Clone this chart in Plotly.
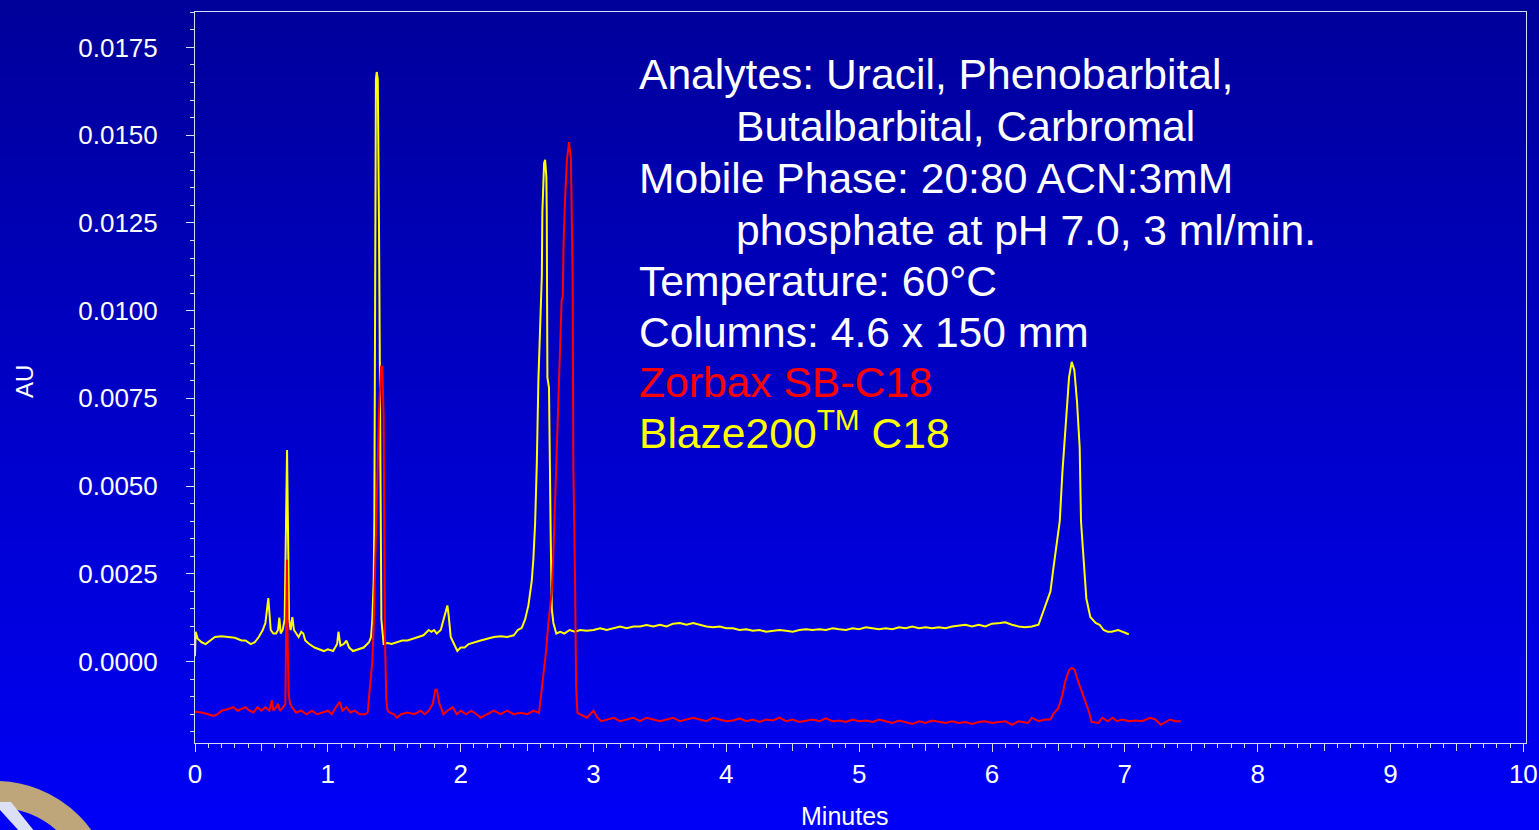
import plotly.graph_objects as go

# ---------------- data ----------------
blaze_time = [
    0.000, 0.005, 0.02, 0.05, 0.08, 0.12, 0.15, 0.20, 0.25, 0.30,
    0.35, 0.38, 0.42, 0.45, 0.48, 0.51, 0.53, 0.545, 0.552, 0.56,
    0.57, 0.59, 0.61, 0.625, 0.635, 0.645, 0.66, 0.675, 0.685, 0.693,
    0.70, 0.708, 0.72, 0.733, 0.745, 0.76, 0.78, 0.80, 0.815, 0.83,
    0.86, 0.90, 0.94, 0.97, 1.00, 1.04, 1.07, 1.08, 1.095, 1.12,
    1.14, 1.16, 1.19, 1.23, 1.27, 1.31, 1.325, 1.335, 1.345, 1.350,
    1.357, 1.362, 1.368, 1.376, 1.385, 1.393, 1.403, 1.42, 1.45, 1.48,
    1.52, 1.56, 1.60, 1.64, 1.68, 1.72, 1.76, 1.78, 1.80, 1.82,
    1.85, 1.88, 1.90, 1.91, 1.925, 1.95, 1.975, 2.00, 2.03, 2.06,
    2.10, 2.15, 2.20, 2.25, 2.30, 2.35, 2.40, 2.43, 2.46, 2.485,
    2.51, 2.535, 2.547, 2.56, 2.573, 2.585, 2.611, 2.615, 2.628, 2.636,
    2.645, 2.648, 2.653, 2.665, 2.678, 2.686, 2.698, 2.72, 2.75, 2.78,
    2.82, 2.86, 2.90, 2.95, 3.00, 3.05, 3.10, 3.15, 3.20, 3.25,
    3.30, 3.35, 3.40, 3.45, 3.50, 3.55, 3.60, 3.65, 3.70, 3.75,
    3.80, 3.85, 3.90, 3.95, 4.00, 4.05, 4.10, 4.15, 4.20, 4.25,
    4.30, 4.35, 4.40, 4.45, 4.50, 4.55, 4.60, 4.65, 4.70, 4.75,
    4.80, 4.85, 4.90, 4.95, 5.00, 5.05, 5.10, 5.15, 5.20, 5.25,
    5.30, 5.35, 5.40, 5.45, 5.50, 5.55, 5.60, 5.65, 5.70, 5.75,
    5.80, 5.85, 5.90, 5.95, 6.00, 6.06, 6.10, 6.15, 6.20, 6.25,
    6.30, 6.35, 6.39, 6.42, 6.44, 6.46, 6.49, 6.51, 6.53, 6.55,
    6.58, 6.60, 6.62, 6.64, 6.66, 6.67, 6.69, 6.71, 6.74, 6.78,
    6.81, 6.84, 6.87, 6.90, 6.95, 6.98, 7.01, 7.03,
]
blaze_au = [
    0.00015, 0.00085, 0.00065, 0.00055, 0.00050, 0.00060, 0.00070, 0.00072, 0.00070, 0.00068,
    0.00060, 0.00060, 0.00050, 0.00055, 0.00070, 0.00090, 0.00110, 0.00160, 0.00181, 0.00140,
    0.00090, 0.00080, 0.00080, 0.00090, 0.00125, 0.00080, 0.00090, 0.00120, 0.00350, 0.00603,
    0.00380, 0.00120, 0.00090, 0.00127, 0.00090, 0.00080, 0.00070, 0.00085, 0.00080, 0.00060,
    0.00050, 0.00040, 0.00033, 0.00030, 0.00035, 0.00030, 0.00050, 0.00085, 0.00045, 0.00050,
    0.00060, 0.00040, 0.00030, 0.00035, 0.00040, 0.00055, 0.00070, 0.00120, 0.00230, 0.00400,
    0.01100, 0.01660, 0.01680, 0.01660, 0.01250, 0.00640, 0.00120, 0.00050, 0.00053, 0.00050,
    0.00055, 0.00060, 0.00060, 0.00065, 0.00070, 0.00075, 0.00090, 0.00085, 0.00090, 0.00080,
    0.00090, 0.00130, 0.00160, 0.00130, 0.00070, 0.00050, 0.00030, 0.00040, 0.00040, 0.00050,
    0.00055, 0.00060, 0.00065, 0.00070, 0.00072, 0.00070, 0.00075, 0.00090, 0.00096, 0.00120,
    0.00160, 0.00230, 0.00290, 0.00390, 0.00560, 0.00800, 0.01100, 0.01280, 0.01420, 0.01430,
    0.01380, 0.01280, 0.00810, 0.00780, 0.00350, 0.00150, 0.00110, 0.00080, 0.00085, 0.00080,
    0.00090, 0.00085, 0.00090, 0.00088, 0.00090, 0.00095, 0.00090, 0.00095, 0.00100, 0.00095,
    0.00100, 0.00100, 0.00104, 0.00100, 0.00105, 0.00100, 0.00108, 0.00110, 0.00105, 0.00110,
    0.00105, 0.00100, 0.00098, 0.00100, 0.00095, 0.00095, 0.00090, 0.00092, 0.00088, 0.00090,
    0.00085, 0.00088, 0.00090, 0.00088, 0.00085, 0.00090, 0.00092, 0.00090, 0.00092, 0.00090,
    0.00095, 0.00092, 0.00090, 0.00095, 0.00092, 0.00098, 0.00095, 0.00092, 0.00095, 0.00092,
    0.00098, 0.00095, 0.00100, 0.00095, 0.00098, 0.00095, 0.00098, 0.00095, 0.00100, 0.00102,
    0.00105, 0.00100, 0.00105, 0.00100, 0.00108, 0.00110, 0.00112, 0.00105, 0.00100, 0.00098,
    0.00100, 0.00105, 0.00147, 0.00180, 0.00200, 0.00260, 0.00340, 0.00400, 0.00540, 0.00650,
    0.00810, 0.00854, 0.00830, 0.00740, 0.00610, 0.00400, 0.00280, 0.00180, 0.00127, 0.00110,
    0.00105, 0.00090, 0.00085, 0.00085, 0.00090, 0.00085, 0.00082, 0.00078,
]

zorbax_time = [
    0.00, 0.05, 0.10, 0.14, 0.17, 0.20, 0.25, 0.29, 0.32, 0.35,
    0.38, 0.41, 0.44, 0.47, 0.50, 0.53, 0.56, 0.578, 0.59, 0.61,
    0.625, 0.64, 0.665, 0.68, 0.686, 0.692, 0.698, 0.705, 0.715, 0.73,
    0.76, 0.80, 0.84, 0.88, 0.92, 0.96, 1.00, 1.03, 1.06, 1.09,
    1.11, 1.14, 1.17, 1.20, 1.24, 1.28, 1.30, 1.315, 1.325, 1.335,
    1.345, 1.355, 1.365, 1.375, 1.385, 1.40, 1.41, 1.42, 1.43, 1.44,
    1.45, 1.47, 1.50, 1.52, 1.55, 1.60, 1.65, 1.70, 1.73, 1.76,
    1.79, 1.81, 1.82, 1.84, 1.87, 1.90, 1.94, 1.97, 2.00, 2.04,
    2.08, 2.12, 2.15, 2.20, 2.25, 2.30, 2.35, 2.40, 2.45, 2.50,
    2.55, 2.59, 2.61, 2.623, 2.643, 2.66, 2.686, 2.70, 2.711, 2.724,
    2.74, 2.75, 2.76, 2.769, 2.774, 2.786, 2.80, 2.816, 2.83, 2.843,
    2.848, 2.861, 2.869, 2.879, 2.90, 2.95, 3.00, 3.03, 3.06, 3.10,
    3.15, 3.20, 3.25, 3.30, 3.35, 3.40, 3.45, 3.50, 3.55, 3.60,
    3.65, 3.70, 3.75, 3.80, 3.85, 3.90, 3.95, 4.00, 4.05, 4.10,
    4.15, 4.20, 4.25, 4.30, 4.35, 4.40, 4.45, 4.50, 4.55, 4.60,
    4.65, 4.70, 4.75, 4.80, 4.85, 4.90, 4.95, 5.00, 5.05, 5.10,
    5.15, 5.20, 5.25, 5.30, 5.35, 5.40, 5.45, 5.50, 5.55, 5.60,
    5.65, 5.70, 5.75, 5.80, 5.85, 5.90, 5.95, 6.00, 6.06, 6.10,
    6.15, 6.20, 6.27, 6.30, 6.35, 6.40, 6.44, 6.46, 6.50, 6.53,
    6.55, 6.58, 6.60, 6.62, 6.65, 6.68, 6.70, 6.73, 6.75, 6.80,
    6.83, 6.87, 6.91, 6.94, 6.98, 7.03, 7.08, 7.13, 7.19, 7.23,
    7.27, 7.31, 7.34, 7.38, 7.42,
]
zorbax_au = [
    -0.00143, -0.00145, -0.00150, -0.00155, -0.00150, -0.00140, -0.00135, -0.00130, -0.00140, -0.00135,
    -0.00130, -0.00140, -0.00145, -0.00130, -0.00140, -0.00130, -0.00140, -0.00110, -0.00140, -0.00130,
    -0.00120, -0.00140, -0.00130, -0.00120, 0.00050, 0.00290, 0.00050, -0.00090, -0.00120, -0.00130,
    -0.00145, -0.00140, -0.00150, -0.00140, -0.00150, -0.00145, -0.00140, -0.00150, -0.00130, -0.00115,
    -0.00140, -0.00130, -0.00145, -0.00140, -0.00150, -0.00150, -0.00145, -0.00080, -0.00030, 0.00000,
    0.00100, 0.00250, 0.00390, 0.00520, 0.00710, 0.00840, 0.00840, 0.00700, 0.00070, -0.00110,
    -0.00140, -0.00146, -0.00150, -0.00160, -0.00150, -0.00145, -0.00150, -0.00140, -0.00150, -0.00140,
    -0.00120, -0.00080, -0.00080, -0.00120, -0.00150, -0.00140, -0.00130, -0.00150, -0.00140, -0.00150,
    -0.00140, -0.00150, -0.00160, -0.00150, -0.00140, -0.00150, -0.00140, -0.00150, -0.00146, -0.00150,
    -0.00140, -0.00146, -0.00080, -0.00040, 0.00030, 0.00110, 0.00200, 0.00330, 0.00460, 0.00600,
    0.00750, 0.00890, 0.01030, 0.01040, 0.01180, 0.01320, 0.01430, 0.01480, 0.01430, 0.01100,
    0.00560, 0.00240, -0.00070, -0.00146, -0.00150, -0.00160, -0.00140, -0.00160, -0.00170, -0.00165,
    -0.00160, -0.00170, -0.00165, -0.00160, -0.00170, -0.00160, -0.00165, -0.00170, -0.00165, -0.00160,
    -0.00170, -0.00165, -0.00160, -0.00165, -0.00170, -0.00160, -0.00165, -0.00170, -0.00168, -0.00162,
    -0.00170, -0.00165, -0.00172, -0.00165, -0.00168, -0.00160, -0.00170, -0.00165, -0.00172, -0.00168,
    -0.00165, -0.00170, -0.00162, -0.00170, -0.00168, -0.00172, -0.00165, -0.00170, -0.00168, -0.00172,
    -0.00165, -0.00170, -0.00175, -0.00168, -0.00172, -0.00178, -0.00170, -0.00175, -0.00168, -0.00172,
    -0.00175, -0.00170, -0.00175, -0.00172, -0.00178, -0.00172, -0.00170, -0.00175, -0.00172, -0.00170,
    -0.00180, -0.00170, -0.00175, -0.00160, -0.00170, -0.00165, -0.00165, -0.00150, -0.00132, -0.00095,
    -0.00058, -0.00024, -0.00018, -0.00022, -0.00058, -0.00090, -0.00115, -0.00143, -0.00172, -0.00175,
    -0.00160, -0.00170, -0.00160, -0.00170, -0.00165, -0.00170, -0.00168, -0.00170, -0.00160, -0.00165,
    -0.00180, -0.00170, -0.00165, -0.00170, -0.00170,
]

x_major_ticks = [0, 1, 2, 3, 4, 5, 6, 7, 8, 9, 10]
x_half_ticks = [0.5, 1.5, 2.5, 3.5, 4.5, 5.5, 6.5, 7.5, 8.5, 9.5]
y_tick_vals = [0.0, 0.0025, 0.005, 0.0075, 0.01, 0.0125, 0.015, 0.0175]

info_lines = [
    ("Analytes: Uracil, Phenobarbital,", 0, "#FFFFFF"),
    ("Butalbarbital, Carbromal", 1, "#FFFFFF"),
    ("Mobile Phase: 20:80 ACN:3mM", 0, "#FFFFFF"),
    ("phosphate at pH 7.0, 3 ml/min.", 1, "#FFFFFF"),
    ("Temperature: 60°C", 0, "#FFFFFF"),
    ("Columns: 4.6 x 150 mm", 0, "#FFFFFF"),
    ("Zorbax SB-C18", 0, "#FF0000"),
    ("Blaze200<sup>TM</sup> C18", 0, "#FFFF00"),
]

# ---------------- layout geometry ----------------
W, H = 1539, 830
ML, MR, MT, MB = 195, 13, 12, 87
PW, PH = W - ML - MR, H - MT - MB
FONT = "Liberation Sans, Arial, sans-serif"
AXC = "#D8DAF5"


def px(xp):
    return (xp - ML) / PW


def py(yp):
    return (H - MB - yp) / PH


fig = go.Figure()
fig.add_trace(go.Scatter(x=blaze_time, y=blaze_au, mode="lines",
                         line=dict(color="#FFFF00", width=2), name="Blaze200 C18"))
fig.add_trace(go.Scatter(x=zorbax_time, y=zorbax_au, mode="lines",
                         line=dict(color="#FF0000", width=2), name="Zorbax SB-C18"))
fig.add_trace(go.Scatter(x=[None], y=[None], xaxis="x2", showlegend=False, mode="lines"))

# gradient background bands
shapes = []
N = 100
top = (0, 0, 154)
bot = (0, 0, 247)
for i in range(N):
    f = (i + 0.5) / N
    c = tuple(int(round(top[k] + (bot[k] - top[k]) * f)) for k in range(3))
    y0 = i * H / N
    y1 = (i + 1) * H / N + 1
    shapes.append(dict(type="rect", xref="paper", yref="paper",
                       x0=px(-5), x1=px(W + 5), y0=py(y1), y1=py(y0),
                       line=dict(width=0), fillcolor="rgb(%d,%d,%d)" % c, layer="below"))

# partial logo in the lower-left corner
cx, cy, r = -5, 900, 106
shapes.append(dict(type="circle", xref="paper", yref="paper",
                   x0=px(cx - r), x1=px(cx + r), y0=py(cy + r), y1=py(cy - r),
                   line=dict(color="#BEA57A", width=26), fillcolor="rgba(0,0,0,0)", layer="below"))
pts = [(0, 802), (11, 802), (35, 832), (20, 832), (0, 810)]
path = "M " + " L ".join("%f,%f" % (px(a), py(b)) for a, b in pts) + " Z"
shapes.append(dict(type="path", xref="paper", yref="paper", path=path,
                   line=dict(width=0), fillcolor="#DCE0F4", layer="below"))

annotations = []
line_y = [74, 126, 178, 230, 281, 332, 382, 430]
for (txt, indent, col), yy in zip(info_lines, line_y):
    annotations.append(dict(text=txt, xref="paper", yref="paper",
                            x=px(637 if indent == 0 else 734), y=py(yy),
                            xanchor="left", yanchor="middle", showarrow=False,
                            font=dict(family=FONT, size=42.6, color=col)))
annotations.append(dict(text="AU", xref="paper", yref="paper", x=px(24), y=py(381),
                        xanchor="center", yanchor="middle", textangle=-90, showarrow=False,
                        font=dict(family=FONT, size=24, color="#FFFFFF")))
annotations.append(dict(text="Minutes", xref="paper", yref="paper", x=px(845), y=py(816),
                        xanchor="center", yanchor="middle", showarrow=False,
                        font=dict(family=FONT, size=25, color="#FFFFFF")))

fig.update_layout(
    width=W, height=H,
    margin=dict(l=ML, r=MR, t=MT, b=MB, pad=0, autoexpand=False),
    paper_bgcolor="#0000C8",
    plot_bgcolor="rgba(0,0,0,0)",
    showlegend=False,
    hovermode=False,
    shapes=shapes,
    annotations=annotations,
    xaxis=dict(range=[0, 10.02], tickvals=x_major_ticks, ticks="outside", ticklen=8, tickwidth=1,
               tickcolor=AXC, showline=True, linecolor=AXC, linewidth=1, mirror=True,
               showgrid=False, zeroline=False, ticklabelstandoff=0, automargin=False,
               tickfont=dict(family=FONT, size=26, color="#FFFFFF"),
               minor=dict(dtick=0.1, tick0=0, ticks="outside", ticklen=4, tickwidth=1,
                          tickcolor=AXC, showgrid=False)),
    xaxis2=dict(range=[0, 10.02], overlaying="x", anchor="y", side="bottom", automargin=False,
                tickvals=x_half_ticks, ticks="outside", ticklen=7, tickwidth=1, tickcolor=AXC,
                showticklabels=False, showline=False, showgrid=False, zeroline=False),
    yaxis=dict(range=[-0.00232, 0.01851], tickvals=y_tick_vals, tickformat=".4f",
               ticks="outside", ticklen=8, tickwidth=1, tickcolor=AXC, automargin=False,
               showline=True, linecolor=AXC, linewidth=1, mirror=True,
               showgrid=False, zeroline=False, ticklabelstandoff=23,
               tickfont=dict(family=FONT, size=26, color="#FFFFFF"),
               minor=dict(dtick=0.0005, tick0=0, ticks="outside", ticklen=4, tickwidth=1,
                          tickcolor=AXC, showgrid=False)),
)

fig.write_html("out.html", config={"displayModeBar": False},
               post_script="document.body.style.margin='0';document.body.style.overflow='hidden';")
